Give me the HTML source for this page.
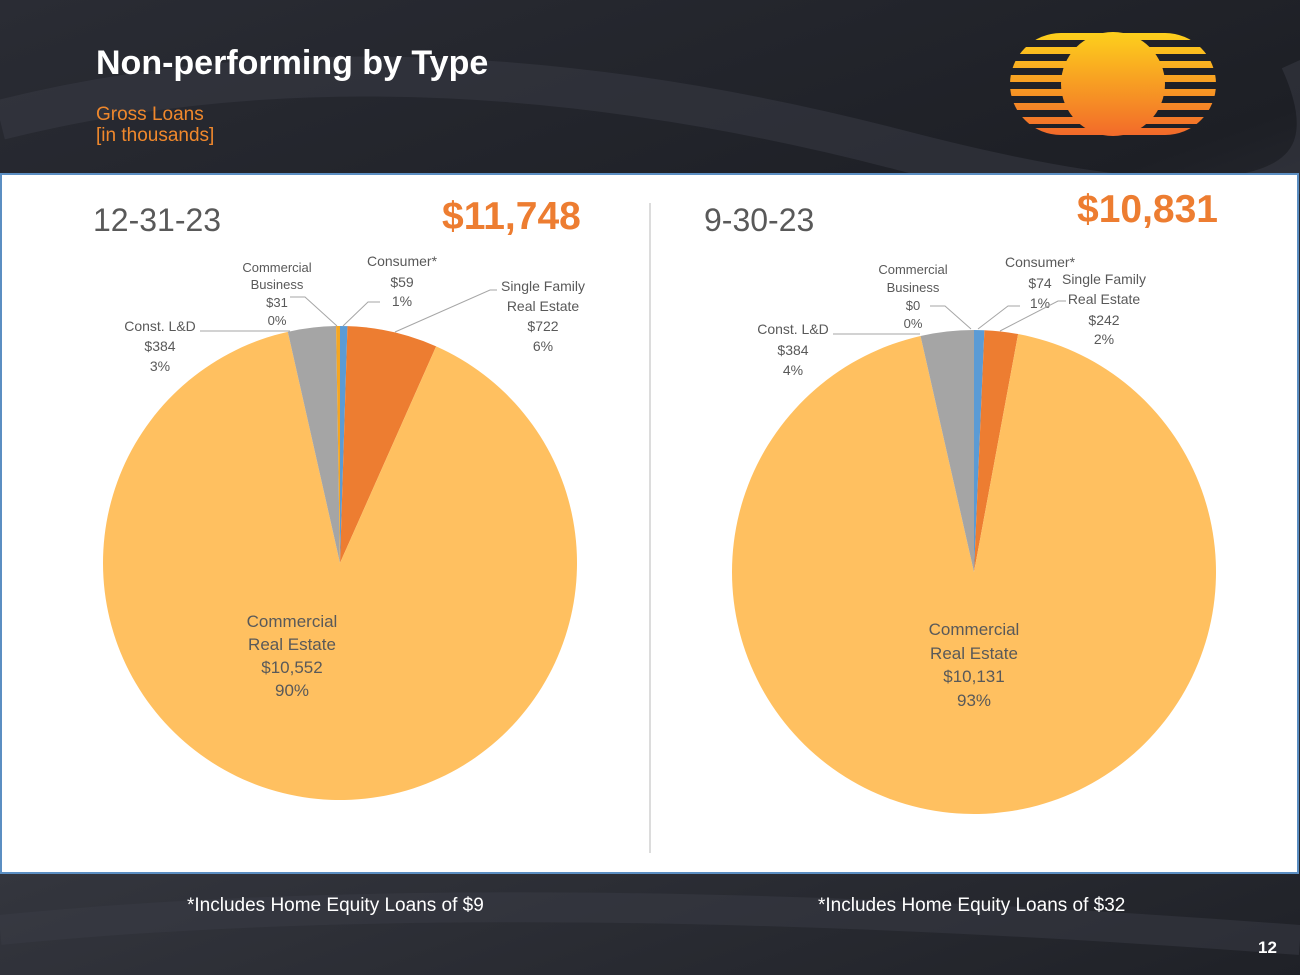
<!DOCTYPE html>
<html><head><meta charset="utf-8">
<style>
body{margin:0;width:1300px;height:975px;overflow:hidden;font-family:"Liberation Sans",sans-serif;background:#23252c}
#wrap{position:relative;width:1300px;height:975px;background:linear-gradient(160deg,#2a2c34 0%,#1d1f25 40%,#34363e 60%,#1f2127 100%)}
</style></head><body>
<div id="wrap">
<svg width="1300" height="975" style="position:absolute;left:0;top:0">
<defs>
<linearGradient id="sun" x1="0" y1="0" x2="0" y2="1"><stop offset="0" stop-color="#fdd01c"/><stop offset="1" stop-color="#f26a2a"/></linearGradient>
<clipPath id="stripes"><rect x="1010" y="33" width="206" height="7"/><rect x="1010" y="47" width="206" height="7"/><rect x="1010" y="61" width="206" height="7"/><rect x="1010" y="75" width="206" height="7"/><rect x="1010" y="89" width="206" height="7"/><rect x="1010" y="103" width="206" height="7"/><rect x="1010" y="117" width="206" height="7"/><rect x="1010" y="128" width="206" height="7"/></clipPath>
</defs>
<path d="M0 120 Q400 20 900 150 T1300 60" stroke="#3a3c45" stroke-width="40" fill="none" opacity="0.5"/>
<path d="M0 930 Q500 880 1300 940" stroke="#3a3c45" stroke-width="30" fill="none" opacity="0.5"/>
<g>
<rect x="1010" y="33" width="206" height="102" rx="51" fill="url(#sun)" clip-path="url(#stripes)"/>
<circle cx="1113" cy="84" r="52" fill="url(#sun)"/>
</g>
<rect x="1" y="174" width="1297" height="699" fill="#fff" stroke="#5b8ec2" stroke-width="2"/>
<line x1="650" y1="203" x2="650" y2="853" stroke="#d0d0d0" stroke-width="1.5"/>
<g id="pies"></g>
<g font-family="Liberation Sans, sans-serif" fill="#595959" text-anchor="middle" stroke="none">
<g font-size="13">
<text x="277" y="272">Commercial</text><text x="277" y="289">Business</text><text x="277" y="307">$31</text><text x="277" y="325">0%</text>
<text x="402" y="266" font-size="14">Consumer*</text><text x="402" y="287" font-size="14">$59</text><text x="402" y="306" font-size="14">1%</text>
<text x="543" y="291" font-size="14">Single Family</text><text x="543" y="311" font-size="14">Real Estate</text><text x="543" y="331" font-size="14">$722</text><text x="543" y="351" font-size="14">6%</text>
<text x="160" y="331" font-size="14">Const. L&amp;D</text><text x="160" y="351" font-size="14">$384</text><text x="160" y="371" font-size="14">3%</text>
<text x="292" y="627" font-size="17">Commercial</text><text x="292" y="650" font-size="17">Real Estate</text><text x="292" y="673" font-size="17">$10,552</text><text x="292" y="696" font-size="17">90%</text>
<text x="913" y="274">Commercial</text><text x="913" y="292">Business</text><text x="913" y="310">$0</text><text x="913" y="328">0%</text>
<text x="1040" y="267" font-size="14">Consumer*</text><text x="1040" y="288" font-size="14">$74</text><text x="1040" y="308" font-size="14">1%</text>
<text x="1104" y="284" font-size="14">Single Family</text><text x="1104" y="304" font-size="14">Real Estate</text><text x="1104" y="325" font-size="14">$242</text><text x="1104" y="344" font-size="14">2%</text>
<text x="793" y="334" font-size="14">Const. L&amp;D</text><text x="793" y="355" font-size="14">$384</text><text x="793" y="375" font-size="14">4%</text>
<text x="974" y="635" font-size="17">Commercial</text><text x="974" y="659" font-size="17">Real Estate</text><text x="974" y="682" font-size="17">$10,131</text><text x="974" y="706" font-size="17">93%</text>
</g>
</g>
<g stroke="#a6a6a6" stroke-width="1" fill="none">
<polyline points="290,297 305,297 337,326"/><polyline points="380,302 368,302 343,326"/>
<polyline points="497,290 490,290 395,332"/><polyline points="200,331 290,331"/>
<polyline points="930,306 945,306 971,329"/><polyline points="1020,306 1008,306 978,329"/>
<polyline points="1066,301 1058,301 1000,331"/><polyline points="833,334 920,334"/>
</g>
</svg>
<div style="position:absolute;left:96px;top:44px;color:#fff;font-weight:bold;font-size:34px">Non-performing by Type</div>
<div style="position:absolute;left:96px;top:104px;color:#f0882c;font-size:19px;line-height:21px">Gross Loans<br>[in thousands]</div>
<div style="position:absolute;left:93px;top:202px;color:#595959;font-size:32px">12-31-23</div>
<div style="position:absolute;left:442px;top:195px;color:#ed7d31;font-size:39px;font-weight:bold">$11,748</div>
<div style="position:absolute;left:704px;top:202px;color:#595959;font-size:32px">9-30-23</div>
<div style="position:absolute;left:1077px;top:188px;color:#ed7d31;font-size:39px;font-weight:bold">$10,831</div>
<div style="position:absolute;left:187px;top:895px;color:#fff;font-size:19px">*Includes Home Equity Loans of $9</div>
<div style="position:absolute;left:818px;top:895px;color:#fff;font-size:19px">*Includes Home Equity Loans of $32</div>
<div style="position:absolute;left:1258px;top:938px;color:#fff;font-size:17px;font-weight:bold">12</div>
</div>
<script>
const categories=["Consumer","Single Family Real Estate","Commercial Real Estate","Const. L&D","Commercial Business"];
const colors=["#5b9bd5","#ed7d31","#ffc060","#a5a5a5","#f5a623"];
const values1231=[59,722,10552,384,31];
const values0930=[74,242,10131,384,0];
const g=document.getElementById('pies');
const NS='http://www.w3.org/2000/svg';
function pie(vals,cx,cy,r,name){
  const tot=vals.reduce((a,b)=>a+b,0);let a=-Math.PI/2;
  vals.forEach((v,i)=>{
    if(v<=0)return;
    const a2=a+v/tot*2*Math.PI;
    const x1=cx+r*Math.cos(a),y1=cy+r*Math.sin(a),x2=cx+r*Math.cos(a2),y2=cy+r*Math.sin(a2);
    const p=document.createElementNS(NS,'path');
    p.setAttribute('d',`M${cx},${cy}L${x1},${y1}A${r},${r} 0 ${a2-a>Math.PI?1:0} 1 ${x2},${y2}Z`);
    p.setAttribute('fill',colors[i]);
    
    
    g.appendChild(p);a=a2;
  });
}
pie(values1231,340,563,237,'pie-12-31-23');
pie(values0930,974,572,242,'pie-9-30-23');
</script>
</body></html>
